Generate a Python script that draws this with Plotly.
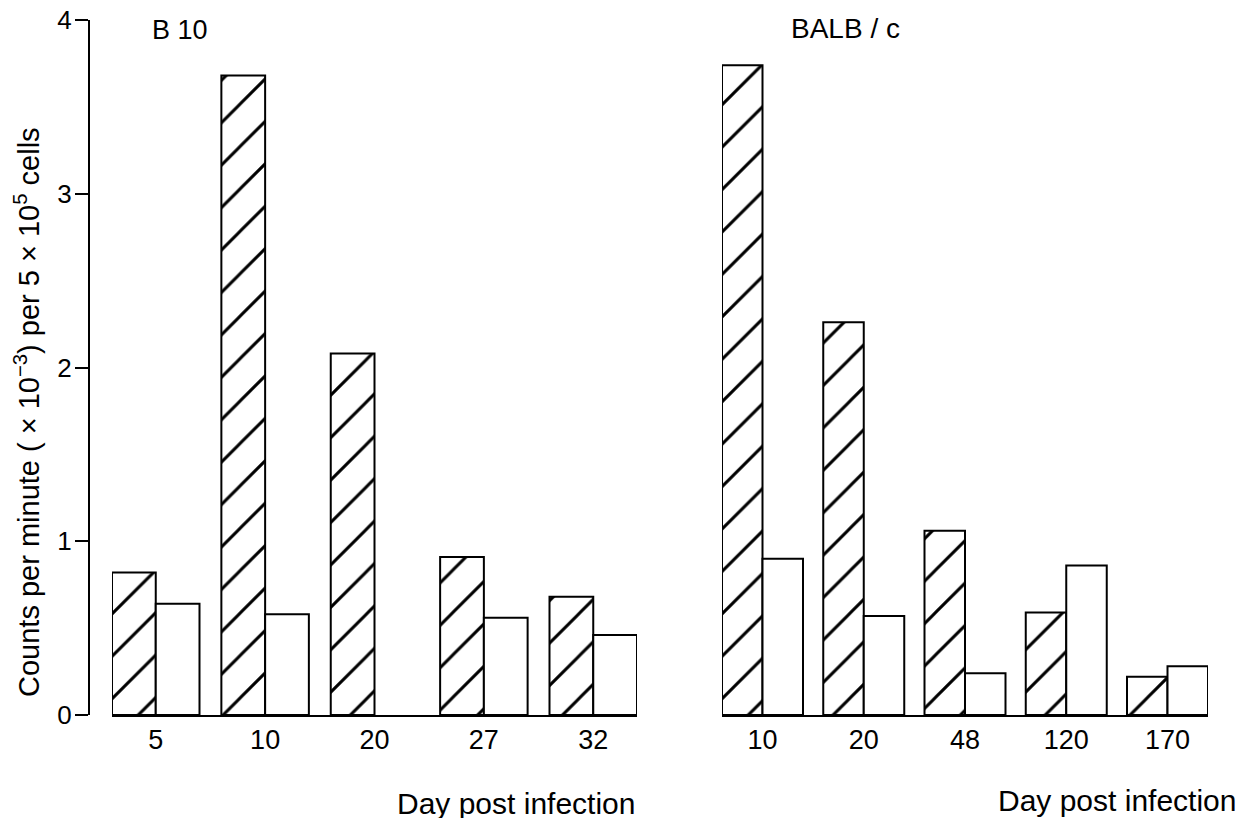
import plotly.graph_objects as go

b10_days = ["5", "10", "20", "27", "32"]
b10_hatched = [0.82, 3.68, 2.08, 0.91, 0.68]
b10_open = [0.64, 0.58, None, 0.56, 0.46]

balb_days = ["10", "20", "48", "120", "170"]
balb_hatched = [3.74, 2.26, 1.06, 0.59, 0.22]
balb_open = [0.90, 0.57, 0.24, 0.86, 0.28]

W, H = 1244, 818
FONT = "Liberation Sans, Arial, Helvetica, sans-serif"
OFF = 8  # page body margin

def px_x(t):
    return (t - OFF) / W

def px_y(t):
    return (H - (t - OFF)) / H

hatch = dict(shape="/", size=30, solidity=0.1, fgcolor="black", bgcolor="white",
             fillmode="overlay", fgopacity=1)

fig = go.Figure()
for days, hv, ov, xa in [(b10_days, b10_hatched, b10_open, "x"), (balb_days, balb_hatched, balb_open, "x2")]:
    fig.add_trace(go.Bar(x=days, y=hv, xaxis=xa, yaxis="y",
                         marker=dict(color="white", line=dict(color="black", width=2), pattern=hatch),
                         showlegend=False, hoverinfo="skip"))
    fig.add_trace(go.Bar(x=days, y=ov, xaxis=xa, yaxis="y",
                         marker=dict(color="white", line=dict(color="black", width=2)),
                         showlegend=False, hoverinfo="skip"))

axis_common = dict(type="category", showline=True, linecolor="black", linewidth=2,
                   ticks="", showgrid=False, zeroline=False, range=[-0.4, 4.4],
                   tickfont=dict(family=FONT, size=27, color="black"), anchor="y",
                   ticklabelstandoff=0, automargin=False, ticklabeloverflow="allow")

fig.update_layout(
    width=W, height=H,
    margin=dict(l=0, r=0, t=0, b=0),
    paper_bgcolor="white", plot_bgcolor="white",
    barmode="group", bargap=0.2, bargroupgap=0,
    xaxis=dict(domain=[px_x(112), px_x(637)], **axis_common),
    xaxis2=dict(domain=[px_x(722), px_x(1208)], **axis_common),
    yaxis=dict(domain=[px_y(715), px_y(20)], range=[0, 4], anchor="free", position=px_x(89),
               showline=True, linecolor="black", linewidth=2, ticks="outside", ticklen=13,
               tickwidth=2, tickcolor="black", tickvals=[0, 1, 2, 3, 4], showgrid=False,
               zeroline=False, tickfont=dict(family=FONT, size=26, color="black"),
               ticklabelstandoff=-2, automargin=False, ticklabeloverflow="allow"),
    annotations=[
        dict(text="B 10", x=px_x(150), y=px_y(30), xref="paper", yref="paper",
             xanchor="left", yanchor="middle", showarrow=False,
             font=dict(family=FONT, size=27, color="black")),
        dict(text="BALB / c", x=px_x(789), y=px_y(28), xref="paper", yref="paper",
             xanchor="left", yanchor="middle", showarrow=False,
             font=dict(family=FONT, size=28, color="black")),
        dict(text="Day post infection", x=px_x(637), y=px_y(803), xref="paper", yref="paper",
             xanchor="right", yanchor="middle", showarrow=False,
             font=dict(family=FONT, size=30, color="black")),
        dict(text="Day post infection", x=px_x(1238), y=px_y(800), xref="paper", yref="paper",
             xanchor="right", yanchor="middle", showarrow=False,
             font=dict(family=FONT, size=30, color="black")),
        dict(text="Counts per minute ( × 10<sup>−3</sup>) per 5 × 10<sup>5</sup> cells",
             x=px_x(27), y=px_y(412), xref="paper", yref="paper", textangle=-90,
             xanchor="center", yanchor="middle", showarrow=False,
             font=dict(family=FONT, size=29, color="black")),
    ],
)

fig.write_html("out.html")
